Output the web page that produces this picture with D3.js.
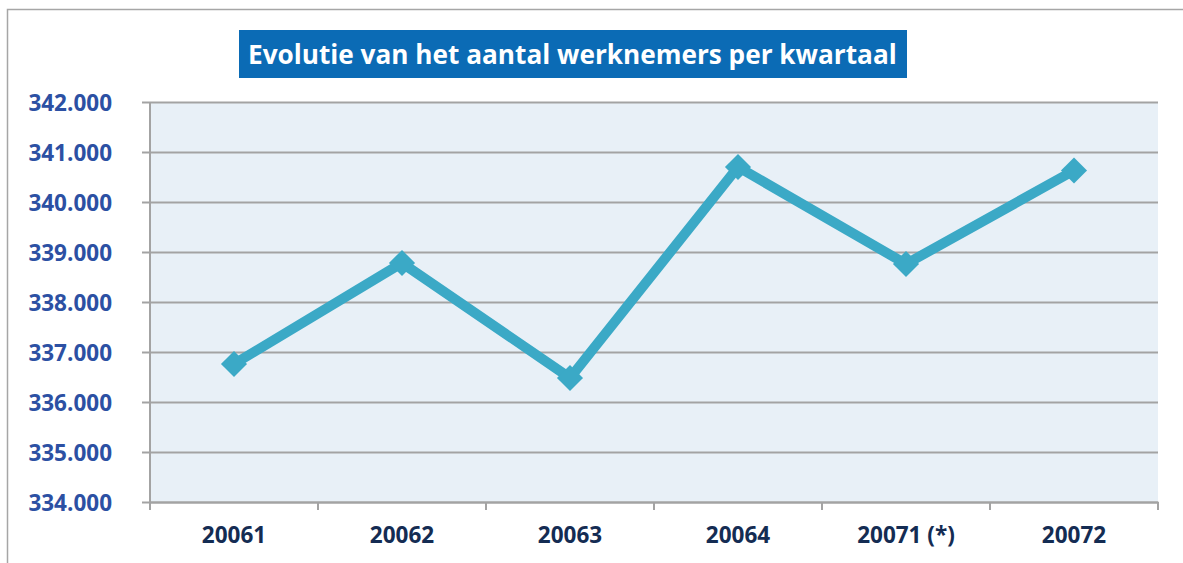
<!DOCTYPE html>
<html>
<head>
<meta charset="utf-8">
<script src="https://cdn.jsdelivr.net/npm/d3@7"></script>
<style>
  body { margin: 0; background: #fff; }
  svg { display: block; }
</style>
</head>
<body>
<div id="chart"></div>
<script>
const quarters = ["20061", "20062", "20063", "20064", "20071 (*)", "20072"];
const workers = [336760, 338780, 336480, 340700, 338760, 340630];
const yTicks = [334000, 335000, 336000, 337000, 338000, 339000, 340000, 341000, 342000];
const chartTitle = "Evolutie van het aantal werknemers per kwartaal";

const W = 1183, H = 563;
const plot = { left: 150, top: 102, right: 1158, bottom: 502 };
const lineColor = "#3BA9C6";
const gridColor = "#A3A3A3";
const font = "'Open Sans', 'Noto Sans', sans-serif";

const svg = d3.select("#chart").append("svg")
  .attr("width", W)
  .attr("height", H);

// outer frame (extends past the window on the right/bottom)
svg.append("rect")
  .attr("x", 7.5).attr("y", 9.5)
  .attr("width", 1300).attr("height", 700)
  .attr("fill", "#fff")
  .attr("stroke", "#A6A6A6")
  .attr("stroke-width", 1.5);

const x = d3.scaleBand()
  .domain(quarters)
  .range([plot.left, plot.right]);

const y = d3.scaleLinear()
  .domain([334000, 342000])
  .range([plot.bottom, plot.top]);

// plot background
svg.append("rect")
  .attr("x", plot.left).attr("y", plot.top)
  .attr("width", plot.right - plot.left)
  .attr("height", plot.bottom - plot.top)
  .attr("fill", "#E8F0F7");

// y axis with gridlines
const fmt = v => d3.format(",")(v).replace(/,/g, ".");
const yAxis = svg.append("g")
  .attr("transform", `translate(${plot.left},0)`)
  .call(d3.axisLeft(y).tickValues(yTicks).tickSize(8).tickFormat(fmt));
yAxis.select(".domain").remove();
yAxis.selectAll(".tick line").attr("stroke", gridColor).attr("stroke-width", 2);
yAxis.selectAll(".tick").append("line")
  .attr("x1", 0).attr("x2", plot.right - plot.left)
  .attr("stroke", gridColor).attr("stroke-width", 2);
yAxis.selectAll(".tick text")
  .attr("x", -38)
  .attr("dy", "0.36em")
  .attr("font-family", font)
  .attr("font-weight", "bold")
  .attr("font-size", "22.5px")
  .attr("fill", "#2C50A3");

// left axis line
svg.append("line")
  .attr("x1", plot.left).attr("x2", plot.left)
  .attr("y1", plot.top).attr("y2", plot.bottom)
  .attr("stroke", gridColor).attr("stroke-width", 2);

// x axis: ticks on category boundaries
const xAxis = svg.append("g")
  .attr("transform", `translate(0,${plot.bottom})`)
  .call(d3.axisBottom(x).tickSize(0));
xAxis.select(".domain").attr("stroke", gridColor).attr("stroke-width", 2);
xAxis.selectAll(".tick text")
  .attr("y", 0)
  .attr("dy", "41px")
  .attr("font-family", font)
  .attr("font-weight", "bold")
  .attr("font-size", "22.5px")
  .attr("fill", "#142C53");

const bounds = quarters.map(q => x(q)).concat([plot.right]);
svg.append("g").selectAll("line")
  .data(bounds)
  .enter()
  .append("line")
  .attr("x1", d => d).attr("x2", d => d)
  .attr("y1", plot.bottom).attr("y2", plot.bottom + 8)
  .attr("stroke", gridColor).attr("stroke-width", 2);

// series line
const cx = (d, i) => x(quarters[i]) + x.bandwidth() / 2;
const line = d3.line()
  .x(cx)
  .y(d => y(d));

svg.append("path")
  .datum(workers)
  .attr("d", line)
  .attr("fill", "none")
  .attr("stroke", lineColor)
  .attr("stroke-width", 10)
  .attr("stroke-linejoin", "miter");

svg.selectAll("path.marker")
  .data(workers)
  .enter()
  .append("path")
  .attr("class", "marker")
  .attr("d", d3.symbol().type(d3.symbolSquare).size(340))
  .attr("transform", (d, i) => `translate(${cx(d, i)},${y(d)}) rotate(45)`)
  .attr("fill", lineColor);

// title box
svg.append("rect")
  .attr("x", 239).attr("y", 30)
  .attr("width", 668).attr("height", 48)
  .attr("fill", "#0B6BB5");

const title = svg.append("text")
  .attr("x", 248).attr("y", 64)
  .attr("font-family", font)
  .attr("font-weight", "bold")
  .attr("font-size", "26px")
  .attr("fill", "#fff")
  .text(chartTitle);
// shrink the font so the title spans the same width as the original
const tw = title.node().getComputedTextLength();
title.attr("font-size", (26 * 649 / tw).toFixed(2) + "px");
</script>
</body>
</html>
